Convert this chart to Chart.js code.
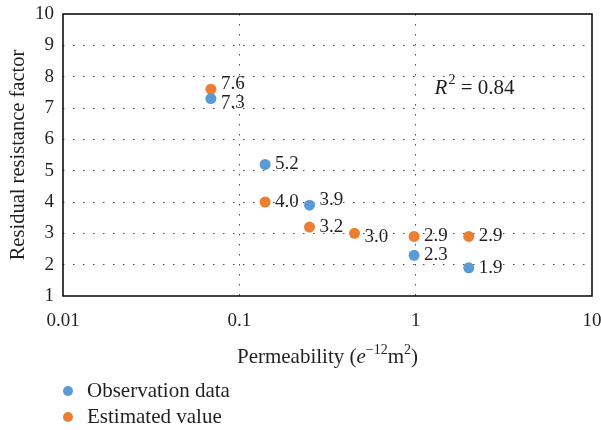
<!DOCTYPE html>
<html>
<head>
<meta charset="utf-8">
<script src="https://cdn.jsdelivr.net/npm/chart.js@4.4.0/dist/chart.umd.min.js"></script>
<style>
  html, body { margin: 0; padding: 0; background: #fff; }
</style>
</head>
<body>
<canvas id="myChart" width="601" height="430"></canvas>
<script>
// permeability (e-12 m2) vs residual resistance factor
var permObserved = [0.069, 0.14, 0.25, 0.98, 2.0];
var rrfObserved = [7.3, 5.2, 3.9, 2.3, 1.9];
var permEstimated = [0.069, 0.14, 0.25, 0.45, 0.98, 2.0];
var rrfEstimated = [7.6, 4.0, 3.2, 3.0, 2.9, 2.9];
var xTickValues = [0.01, 0.1, 1, 10];
var yTickValues = [1, 2, 3, 4, 5, 6, 7, 8, 9, 10];
var rSquared = '0.84';

var serif = "'Liberation Serif', 'Times New Roman', serif";
var ink = '#231f20';
var blue = '#5b9bd5';
var orange = '#ed7d31';

// small vertical nudges so the value labels of close points don't collide
var labelNudge = { 0: { 0: 4, 2: -5 }, 1: { 0: -5, 3: 4 } };

function toPoints(xs, ys) {
    return xs.map(function (x, i) { return { x: x, y: ys[i] }; });
}

function hideEdges(first, last) {
    return function (c) {
        var v = c.tick && c.tick.value;
        return (v === first || v === last) ? 'rgba(0,0,0,0)' : '#4a4a4a';
    };
}

var extras = {
    id: 'extras',
    afterDatasetsDraw: function (chart) {
        var ctx = chart.ctx;
        var area = chart.chartArea;
        var xs = chart.scales.x, ys = chart.scales.y;

        // frame around the plot
        ctx.save();
        ctx.strokeStyle = '#000';
        ctx.lineWidth = 1.5;
        ctx.strokeRect(area.left, area.top, area.right - area.left, area.bottom - area.top);

        // value labels to the right of each point
        ctx.fillStyle = ink;
        ctx.font = '19px ' + serif;
        ctx.textAlign = 'left';
        ctx.textBaseline = 'middle';
        chart.data.datasets.forEach(function (ds, di) {
            chart.getDatasetMeta(di).data.forEach(function (pt, i) {
                var dy = (labelNudge[di] && labelNudge[di][i]) || 0;
                ctx.fillText(ds.data[i].y.toFixed(1), pt.x + 10, pt.y + dy);
            });
        });

        // R^2 note
        var rx = xs.getPixelForValue(1.28);
        var ry = ys.getPixelForValue(7.62);
        ctx.font = 'italic 21px ' + serif;
        ctx.fillText('R', rx, ry);
        rx += ctx.measureText('R').width + 1;
        ctx.font = '14px ' + serif;
        ctx.fillText('2', rx, ry - 8);
        rx += ctx.measureText('2').width;
        ctx.font = '21px ' + serif;
        ctx.fillText(' = ' + rSquared, rx, ry);

        // y axis title
        ctx.save();
        ctx.translate(19, (area.top + area.bottom) / 2);
        ctx.rotate(-Math.PI / 2);
        ctx.textAlign = 'center';
        ctx.font = '20.5px ' + serif;
        ctx.fillText('Residual resistance factor', 0, 0);
        ctx.restore();

        // x axis title with superscripts
        var parts = [
            { t: 'Permeability (', f: '21px ' + serif, dy: 0 },
            { t: 'e', f: 'italic 21px ' + serif, dy: 0 },
            { t: '\u221212', f: '14px ' + serif, dy: -7 },
            { t: 'm', f: '21px ' + serif, dy: 0 },
            { t: '2', f: '14px ' + serif, dy: -7 },
            { t: ')', f: '21px ' + serif, dy: 0 }
        ];
        var total = 0;
        parts.forEach(function (p) { ctx.font = p.f; p.w = ctx.measureText(p.t).width; total += p.w; });
        var tx = (area.left + area.right) / 2 - total / 2;
        var ty = area.bottom + 61;
        parts.forEach(function (p) {
            ctx.font = p.f;
            ctx.fillText(p.t, tx, ty + p.dy);
            tx += p.w;
        });

        // legend, stacked under the chart
        ctx.font = '21px ' + serif;
        chart.data.datasets.forEach(function (ds, di) {
            var ly = area.bottom + 95 + di * 26;
            ctx.beginPath();
            ctx.fillStyle = ds.backgroundColor;
            ctx.arc(68, ly, 5, 0, Math.PI * 2);
            ctx.fill();
            ctx.fillStyle = ink;
            ctx.fillText(ds.label, 87, ly);
        });
        ctx.restore();
    }
};

var ctx = document.getElementById('myChart').getContext('2d');
var myChart = new Chart(ctx, {
    type: 'scatter',
    data: {
        datasets: [{
            label: 'Observation data',
            data: toPoints(permObserved, rrfObserved),
            backgroundColor: blue,
            borderWidth: 0,
            pointRadius: 5.5
        },
        {
            label: 'Estimated value',
            data: toPoints(permEstimated, rrfEstimated),
            backgroundColor: orange,
            borderWidth: 0,
            pointRadius: 5.5
        }]
    },
    options: {
        responsive: false,
        animation: false,
        layout: { padding: { top: 14, right: 9, bottom: 92, left: 0 } },
        plugins: {
            legend: { display: false },
            tooltip: { enabled: false }
        },
        scales: {
            x: {
                type: 'logarithmic',
                min: 0.01,
                max: 10,
                afterBuildTicks: function (s) {
                    s.ticks = xTickValues.map(function (v) { return { value: v }; });
                },
                afterFit: function (s) {
                    s.height = 42;
                    s.paddingLeft = 0;
                    s.paddingRight = 0;
                },
                ticks: {
                    color: ink,
                    font: { family: serif, size: 19 },
                    padding: 14,
                    maxRotation: 0,
                    autoSkip: false,
                    callback: function (v) { return String(v); }
                },
                grid: { drawTicks: false, color: hideEdges(0.01, 10), lineWidth: 1 },
                border: { display: false, dash: [1.5, 8.5] }
            },
            y: {
                min: 1,
                max: 10,
                afterBuildTicks: function (s) {
                    s.ticks = yTickValues.map(function (v) { return { value: v }; });
                },
                afterFit: function (s) {
                    s.width = 63;
                    s.paddingTop = 0;
                    s.paddingBottom = 0;
                },
                ticks: {
                    color: ink,
                    font: { family: serif, size: 19 },
                    padding: 9
                },
                grid: { drawTicks: false, color: hideEdges(1, 10), lineWidth: 1 },
                border: { display: false, dash: [1.5, 8.5] }
            }
        }
    },
    plugins: [extras]
});
</script>
</body>
</html>
